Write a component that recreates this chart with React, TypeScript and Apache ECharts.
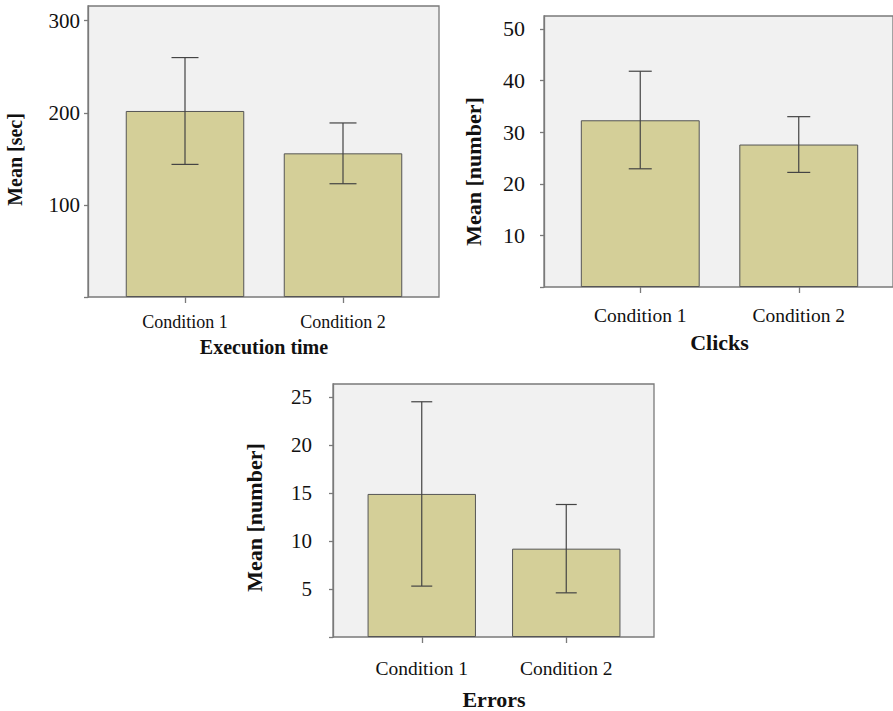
import React, { useEffect, useRef } from "react";
import * as echarts from "echarts";

const categories = ["Condition 1", "Condition 2"];

const execMeans = [202, 156];
const execLow = [144, 123];
const execHigh = [260, 189];
const execTicks = [0, 100, 200, 300];

const clickMeans = [32.3, 27.6];
const clickLow = [22.9, 22.2];
const clickHigh = [41.8, 33.0];
const clickTicks = [0, 10, 20, 30, 40, 50];

const errorMeans = [14.9, 9.2];
const errorLow = [5.3, 4.6];
const errorHigh = [24.5, 13.8];
const errorTicks = [0, 5, 10, 15, 20, 25];

const FONT = "Liberation Serif";
const BG = "#f1f1f1";
const FRAME = "#7a7a7a";
const BAR = "#d4cf98";
const BAR_EDGE = "#555555";
const ERR = "#444444";
const TXT = "#111111";

type Panel = {
  frame: { left: number; top: number; width: number; height: number };
  band: { left: number; width: number };
  max: number;
  ticks: number[];
  means: number[];
  low: number[];
  high: number[];
  xName: string;
  yName: string;
  yLabelSize: number;
  yLabelMargin: number;
  xLabelSize: number;
  xLabelMargin: number;
  nameSize: number;
  xNameGap: number;
  yNameSize: number;
  yNameGap: number;
  yNameShift: number;
  cap: number;
};

const panels: Panel[] = [
  {
    frame: { left: 88, top: 6, width: 351, height: 291 },
    band: { left: 106, width: 316 },
    max: 316,
    ticks: execTicks,
    means: execMeans,
    low: execLow,
    high: execHigh,
    xName: "Execution time",
    yName: "Mean [sec]",
    yLabelSize: 21,
    yLabelMargin: 8,
    xLabelSize: 18,
    xLabelMargin: 16,
    nameSize: 20,
    xNameGap: 40,
    yNameSize: 20,
    yNameGap: 63,
    yNameShift: 8,
    cap: 27,
  },
  {
    frame: { left: 544, top: 16, width: 351, height: 271 },
    band: { left: 561, width: 317 },
    max: 52.5,
    ticks: clickTicks,
    means: clickMeans,
    low: clickLow,
    high: clickHigh,
    xName: "Clicks",
    yName: "Mean [number]",
    yLabelSize: 22,
    yLabelMargin: 19,
    xLabelSize: 19.5,
    xLabelMargin: 18,
    nameSize: 22,
    xNameGap: 44,
    yNameSize: 22,
    yNameGap: 60,
    yNameShift: 20,
    cap: 23,
  },
  {
    frame: { left: 333, top: 384, width: 321, height: 253 },
    band: { left: 349.5, width: 289 },
    max: 26.35,
    ticks: errorTicks,
    means: errorMeans,
    low: errorLow,
    high: errorHigh,
    xName: "Errors",
    yName: "Mean [number]",
    yLabelSize: 21,
    yLabelMargin: 21,
    xLabelSize: 19.5,
    xLabelMargin: 21,
    nameSize: 22,
    xNameGap: 51,
    yNameSize: 22,
    yNameGap: 68,
    yNameShift: 7,
    cap: 21,
  },
];

function buildOption() {
  const grid: any[] = [];
  const xAxis: any[] = [];
  const yAxis: any[] = [];
  const series: any[] = [];

  panels.forEach((p, i) => {
    const fi = i * 2;
    const bi = i * 2 + 1;
    grid.push({
      left: p.frame.left,
      top: p.frame.top,
      width: p.frame.width,
      height: p.frame.height,
      show: true,
      backgroundColor: BG,
      borderColor: FRAME,
      borderWidth: 1.3,
      containLabel: false,
    });
    grid.push({
      left: p.band.left,
      top: p.frame.top,
      width: p.band.width,
      height: p.frame.height,
      show: false,
      containLabel: false,
    });
    xAxis.push({
      type: "category",
      gridIndex: fi,
      data: categories,
      show: false,
    });
    yAxis.push({
      type: "value",
      gridIndex: fi,
      min: 0,
      max: p.max,
      axisLine: { show: true, lineStyle: { color: FRAME, width: 1.3 } },
      axisTick: {
        show: true,
        length: 4,
        customValues: p.ticks,
        lineStyle: { color: FRAME, width: 1.3 },
      },
      axisLabel: {
        customValues: p.ticks.filter((t) => t !== 0),
        fontFamily: FONT,
        fontSize: p.yLabelSize,
        color: TXT,
        margin: p.yLabelMargin,
      },
      splitLine: { show: false },
      name: p.yName,
      nameLocation: "middle",
      nameRotate: 90,
      nameGap: p.yNameGap,
      nameTextStyle: {
        fontFamily: FONT,
        fontSize: p.yNameSize,
        fontWeight: "bold",
        color: TXT,
        padding: [0, p.yNameShift * 2, 0, 0],
      },
    });
    xAxis.push({
      type: "category",
      gridIndex: bi,
      data: categories,
      boundaryGap: true,
      axisLine: { show: false },
      axisTick: {
        show: true,
        alignWithLabel: true,
        length: 6,
        inside: false,
        lineStyle: { color: FRAME, width: 1.3 },
      },
      axisLabel: {
        fontFamily: FONT,
        fontSize: p.xLabelSize,
        fontWeight: "normal",
        color: TXT,
        margin: p.xLabelMargin,
        textStyle: { fontFamily: FONT },
      },
      name: p.xName,
      nameLocation: "middle",
      nameGap: p.xNameGap,
      nameTextStyle: {
        fontFamily: FONT,
        fontSize: p.nameSize,
        fontWeight: "bold",
        color: TXT,
      },
    });
    yAxis.push({
      type: "value",
      gridIndex: bi,
      min: 0,
      max: p.max,
      show: false,
      splitLine: { show: false },
    });

    series.push({
      type: "bar",
      xAxisIndex: bi,
      yAxisIndex: bi,
      data: p.means,
      barWidth: "75%",
      itemStyle: { color: BAR, borderColor: BAR_EDGE, borderWidth: 1 },
      silent: true,
    });
    const cap = p.cap;
    series.push({
      type: "custom",
      xAxisIndex: bi,
      yAxisIndex: bi,
      data: p.means.map((_, k) => [k, p.low[k], p.high[k]]),
      encode: { x: 0, y: [1, 2] },
      silent: true,
      z: 5,
      renderItem: (params: any, api: any) => {
        const x = api.value(0);
        const top = api.coord([x, api.value(2)]);
        const bot = api.coord([x, api.value(1)]);
        const style = { stroke: ERR, lineWidth: 1.2 };
        return {
          type: "group",
          children: [
            { type: "line", shape: { x1: top[0], y1: top[1], x2: bot[0], y2: bot[1] }, style },
            { type: "line", shape: { x1: top[0] - cap / 2, y1: top[1], x2: top[0] + cap / 2, y2: top[1] }, style },
            { type: "line", shape: { x1: bot[0] - cap / 2, y1: bot[1], x2: bot[0] + cap / 2, y2: bot[1] }, style },
          ],
        };
      },
    });
  });

  return {
    animation: false,
    backgroundColor: "#ffffff",
    textStyle: { fontFamily: FONT },
    grid,
    xAxis,
    yAxis,
    series,
  };
}

export default function App() {
  const ref = useRef<HTMLDivElement>(null);
  useEffect(() => {
    if (!ref.current) return;
    const chart = echarts.init(ref.current, undefined, { renderer: "svg" });
    chart.setOption(buildOption() as any);
    return () => chart.dispose();
  }, []);
  return (
    <div
      ref={ref}
      style={{ position: "absolute", left: 0, top: 0, width: 893, height: 711 }}
    />
  );
}
